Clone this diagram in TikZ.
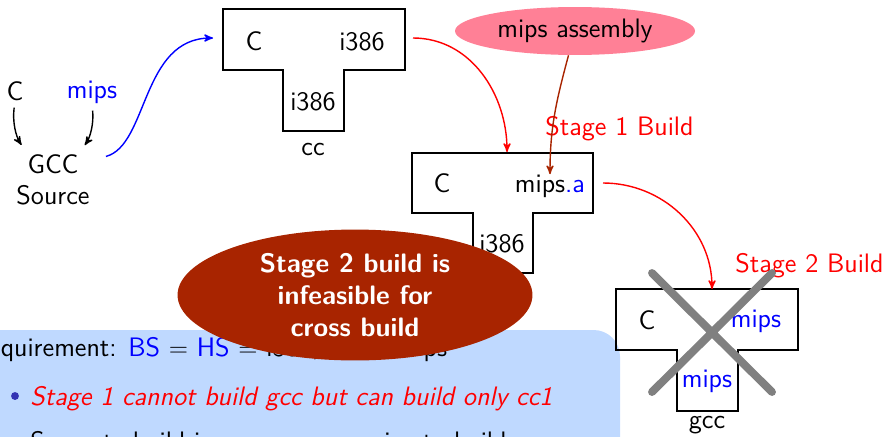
\documentclass[tikz,border=0pt]{standalone}
\usepackage{tikz}
\usetikzlibrary{arrows}
\usetikzlibrary{shapes}
\usetikzlibrary{scopes}
\definecolor{boxblue}{RGB}{191,217,255}
\definecolor{rust}{RGB}{168,36,0}
\definecolor{pinkish}{RGB}{255,128,150}
\definecolor{bulletblue}{RGB}{51,51,179}

\begin{document}
\sffamily\fontsize{15.2}{18}\selectfont
\begin{tikzpicture}[x=0.02cm,y=-0.02cm,
		every node/.style={inner sep=0pt},
		tee/.style={draw, line width=1.1pt},
		flow/.style={->, >=stealth', thick}]
		\clip (0,0) rectangle (885,436);
		% requirement box
		\fill[boxblue, rounded corners=15] (-40,480) rectangle (620,330);
		\node[anchor=base west] (req) at (-28,356) {Requirement: \textcolor{blue}{BS} $=$ \textcolor{blue}{HS} $=$ i386, TS $=$ mips};
		\node[circle, fill=bulletblue, minimum size=4.5pt] (b1) at (15,396) {};
		\node[anchor=base west, red, font=\itshape] (item1) at (30,405) {Stage 1 cannot build gcc but can build only cc1};
		\node[circle, fill=bulletblue, minimum size=4.5pt] (b2) at (15,441) {};
		\node[anchor=base west] (item2) at (30,450) {Separate build is necessary on mips to build gcc};

		% source
		\node[anchor=base] (lc) at (15,100) {C};
		\node[anchor=base, blue] (lmips) at (92,98) {mips};
		\node[anchor=base] (gcc) at (53,173) {GCC};
		\node[anchor=base] (src) at (53,204) {Source};
		\draw[flow, shorten <=4pt, shorten >=6pt] (lc.south) to[bend right=20] (gcc.north west);
		\draw[flow, shorten <=4pt, shorten >=6pt] (lmips.south) to[bend left=20] (gcc.north east);

		% cc
		\draw[tee] (223,9) -- (405,9) -- (405,70) -- (344,70) -- (344,131) -- (283,131) -- (283,70) -- (223,70) -- cycle;
		\node[anchor=base] (t1src) at (254,50) {C};
		\node[anchor=base] (t1tgt) at (362,50) {i386};
		\node[anchor=base] (t1host) at (313,110) {i386};
		\node[anchor=base] (t1name) at (313,155) {cc};
		\coordinate (t1in) at (213,38);
		\coordinate (t1out) at (413,38);

		% stage 1
		\draw[tee] (412,153) -- (593,153) -- (593,213) -- (533,213) -- (533,273) -- (473,273) -- (473,213) -- (412,213) -- cycle;
		\node[anchor=base] (t2src) at (442,192) {C};
		\node[anchor=base] (t2tgt) at (550,192) {mips\textcolor{blue}{.a}};
		\node[anchor=base] (t2host) at (502,252) {i386};
		\coordinate (t2in) at (507,152);
		\coordinate (t2out) at (603,183);
		\node[anchor=base west, red] (st1) at (545,135) {Stage 1 Build};
		\node[ellipse, fill=pinkish, minimum width=136.6pt, minimum height=27.3pt] (asm) at (575,31) {mips assembly};

		% stage 2
		\draw[tee] (616,289) -- (798,289) -- (798,350) -- (738,350) -- (738,411) -- (677,411) -- (677,350) -- (616,350) -- cycle;
		\node[anchor=base] (t3src) at (647,329) {C};
		\node[anchor=base, blue] (t3tgt) at (756,327) {mips};
		\node[anchor=base, blue] (t3host) at (707,387) {mips};
		\node[anchor=base] (t3name) at (707,428) {gcc};
		\coordinate (t3in) at (712,289);
		\node[anchor=base west, red] (st2) at (735,272) {Stage 2 Build};

		\draw[flow, blue, shorten <=16pt] (gcc.east) to[out=15, in=180] (t1in);
		\draw[flow, red] (t1out) to[out=0, in=90] (t2in);
		\draw[flow, rust] (asm.255) to[out=-105, in=90] (t2tgt.north);
		\draw[flow, red] (t2out) to[out=0, in=90] (t3in);

		\draw[gray, line width=4.5pt, line cap=round] (652,273) -- (772,392) (772,273) -- (652,392);

		\node[ellipse, fill=rust, text=white, font=\bfseries, align=center, minimum width=202pt, minimum height=74.5pt] (warn) at (355,295)
			{\baselineskip=18.2pt Stage 2 build is\\infeasible for\\cross build};
	\end{tikzpicture}
\end{document}
